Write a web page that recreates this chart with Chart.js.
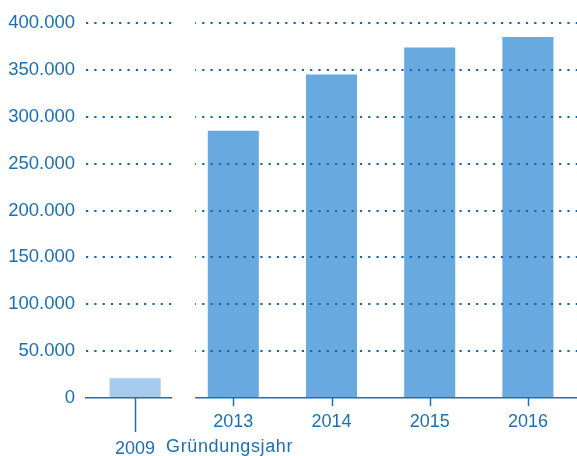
<!DOCTYPE html>
<html>
<head>
<meta charset="utf-8">
<script src="https://cdn.jsdelivr.net/npm/chart.js@4/dist/chart.umd.min.js"></script>
<style>
  html, body { margin: 0; padding: 0; background: #fff; }
  #wrap { width: 577px; height: 456px; }
</style>
</head>
<body>
<div id="wrap"><canvas id="chart"></canvas></div>
<script>
// Daten
const years = ['2009', '2013', '2014', '2015', '2016'];
const members = [21000, 285000, 345000, 374000, 385000];
const barColors = ['#a5cbee', '#68aadf', '#68aadf', '#68aadf', '#68aadf'];
const yTicks = [0, 50000, 100000, 150000, 200000, 250000, 300000, 350000, 400000];
const foundingNote = 'Gründungsjahr';

const BLUE = '#1a6fb5';
const DOT = '#1466ad';
const FONT = '"Liberation Sans", Arial, sans-serif';

// Tausenderpunkt wie im Original (400.000)
function formatDe(v) {
    return String(v).replace(/\B(?=(\d{3})+(?!\d))/g, '.');
}

// Lücke zwischen 2009 und 2013, Tick-Striche und Zusatztext
const breakPlugin = {
    id: 'breakPlugin',
    afterDraw(chart) {
        const { ctx, chartArea } = chart;
        const xs = chart.scales.x;
        const x0 = xs.getPixelForValue(0);
        const x1 = xs.getPixelForValue(1);
        const mid = (x0 + x1) / 2;

        ctx.save();
        ctx.fillStyle = '#fff';
        ctx.fillRect(mid - 12, chartArea.top - 4, 23, chartArea.bottom - chartArea.top + 7);

        ctx.strokeStyle = BLUE;
        ctx.lineWidth = 1.5;
        years.forEach((y, i) => {
            const px = Math.round(xs.getPixelForValue(i)) + 0.5;
            ctx.beginPath();
            ctx.moveTo(px, chartArea.bottom);
            ctx.lineTo(px, chartArea.bottom + (i === 0 ? 34 : 8));
            ctx.stroke();
        });

        ctx.fillStyle = BLUE;
        ctx.font = '18px ' + FONT;
        ctx.letterSpacing = '0.6px';
        ctx.textAlign = 'left';
        ctx.textBaseline = 'middle';
        ctx.fillText(foundingNote, x0 + 31, chartArea.bottom + 49);
        ctx.restore();
    }
};

new Chart(document.getElementById('chart'), {
    type: 'bar',
    data: {
        labels: years.map((y, i) => i === 0 ? ['', y] : y),
        datasets: [{
            data: members,
            backgroundColor: barColors,
            borderWidth: 0,
            categoryPercentage: 1,
            barPercentage: 0.52
        }]
    },
    options: {
        responsive: true,
        maintainAspectRatio: false,
        animation: false,
        layout: { padding: { top: 23, right: 0, bottom: 0, left: 0 } },
        plugins: {
            legend: { display: false },
            tooltip: { enabled: false }
        },
        scales: {
            x: {
                grid: { display: false, drawTicks: false },
                border: { display: true, color: BLUE, width: 1.5 },
                ticks: {
                    color: BLUE,
                    padding: 11,
                    maxRotation: 0,
                    font: { family: FONT, size: 18, lineHeight: 1.5 }
                },
                afterFit(scale) { scale.height = 58; }
            },
            y: {
                min: 0,
                max: 400000,
                afterBuildTicks(scale) {
                    scale.ticks = yTicks.map(v => ({ value: v }));
                },
                grid: {
                    z: 1, // Punkte liegen über den Balken
                    drawTicks: false,
                    lineWidth: 2,
                    color: ctx => (ctx.tick && ctx.tick.value === 0) ? 'rgba(0,0,0,0)' : DOT
                },
                border: { display: false, dash: [2.2, 6.1] },
                ticks: {
                    color: BLUE,
                    padding: 11,
                    font: { family: FONT, size: 18.5 },
                    callback: v => formatDe(v)
                },
                afterFit(scale) { scale.width = 86; }
            }
        }
    },
    plugins: [breakPlugin]
});
</script>
</body>
</html>
